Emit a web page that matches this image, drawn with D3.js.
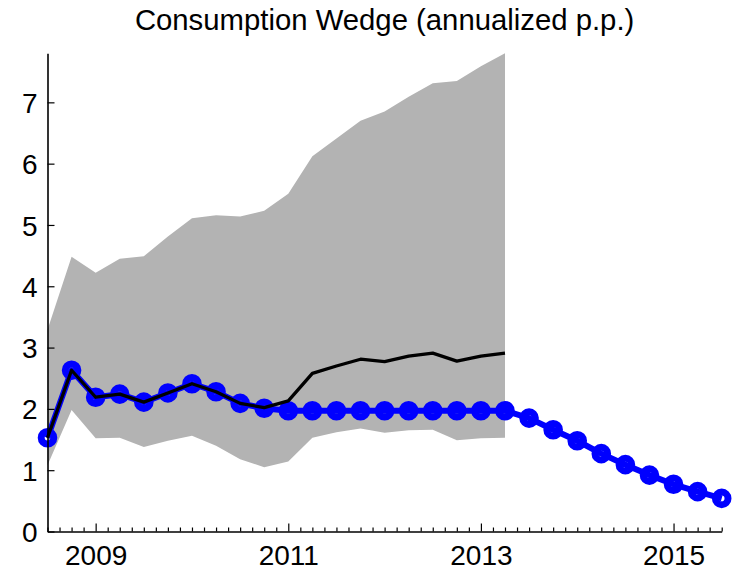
<!DOCTYPE html>
<html>
<head>
<meta charset="utf-8">
<script src="https://cdn.jsdelivr.net/npm/d3@7"></script>
<style>
  html, body { margin: 0; padding: 0; background: #fff; }
  svg text { font-family: "Liberation Sans", Arial, Helvetica, sans-serif; fill: #000; }
</style>
</head>
<body>
<svg id="chart" width="734" height="574"></svg>
<script>
// ---- Data ----
const quarters = [2008.5, 2008.75, 2009, 2009.25, 2009.5, 2009.75, 2010, 2010.25, 2010.5, 2010.75,
                  2011, 2011.25, 2011.5, 2011.75, 2012, 2012.25, 2012.5, 2012.75, 2013, 2013.25,
                  2013.5, 2013.75, 2014, 2014.25, 2014.5, 2014.75, 2015, 2015.25, 2015.5];
const bandQuarters = [2008.5, 2008.75, 2009, 2009.25, 2009.5, 2009.75, 2010, 2010.25, 2010.5, 2010.75,
                      2011, 2011.25, 2011.5, 2011.75, 2012, 2012.25, 2012.5, 2012.75, 2013, 2013.25];
const bluePath = [1.53, 2.63, 2.19, 2.24, 2.11, 2.26, 2.41, 2.28, 2.09, 2.01,
                  1.97, 1.97, 1.97, 1.97, 1.97, 1.97, 1.97, 1.97, 1.97, 1.97,
                  1.85, 1.66, 1.48, 1.27, 1.09, 0.92, 0.77, 0.65, 0.54];
const medianWedge = [1.53, 2.63, 2.19, 2.24, 2.11, 2.26, 2.41, 2.28, 2.09, 2.02,
                     2.13, 2.58, 2.70, 2.81, 2.77, 2.86, 2.91, 2.78, 2.86, 2.91];
const bandUpper = [3.29, 4.48, 4.22, 4.45, 4.49, 4.81, 5.11, 5.16, 5.14, 5.23,
                   5.51, 6.12, 6.41, 6.70, 6.85, 7.09, 7.31, 7.35, 7.59, 7.80];
const bandLower = [1.08, 1.98, 1.52, 1.53, 1.38, 1.48, 1.56, 1.40, 1.18, 1.05,
                   1.14, 1.53, 1.62, 1.68, 1.61, 1.65, 1.66, 1.49, 1.52, 1.53];
const yTicks = [0, 1, 2, 3, 4, 5, 6, 7];
const xTicks = [2009, 2011, 2013, 2015];
const xTickLabels = ["2009", "2011", "2013", "2015"];
const titleText = "Consumption Wedge (annualized p.p.)";

// ---- Layout ----
const svg = d3.select("#chart");
const x = d3.scaleLinear().domain([2008.5, 2015.5]).range([47.5, 721.7]);
const y = d3.scaleLinear().domain([0, 7.8]).range([531.5, 53.3]);

// Band
const band = bandQuarters.map((q, i) => ({q, lo: bandLower[i], hi: bandUpper[i]}));
svg.append("path")
  .datum(band)
  .attr("fill", "#b3b3b3")
  .attr("stroke", "none")
  .attr("d", d3.area().x(d => x(d.q)).y0(d => y(d.lo)).y1(d => y(d.hi)));

// Blue path with markers
const blue = quarters.map((q, i) => ({q, v: bluePath[i]}));
svg.append("path")
  .datum(blue)
  .attr("fill", "none")
  .attr("stroke", "#0000ff")
  .attr("stroke-width", 6)
  .attr("stroke-linejoin", "round")
  .attr("d", d3.line().x(d => x(d.q)).y(d => y(d.v)));
svg.append("g").selectAll("circle")
  .data(blue)
  .join("circle")
  .attr("cx", d => x(d.q))
  .attr("cy", d => y(d.v))
  .attr("r", 6.3)
  .attr("fill", "none")
  .attr("stroke", "#0000ff")
  .attr("stroke-width", 7);

// Black median line
const med = bandQuarters.map((q, i) => ({q, v: medianWedge[i]}));
svg.append("path")
  .datum(med)
  .attr("fill", "none")
  .attr("stroke", "#000")
  .attr("stroke-width", 3.3)
  .attr("stroke-linejoin", "round")
  .attr("d", d3.line().x(d => x(d.q)).y(d => y(d.v)));

// Axes
const x0 = x.range()[0], y0 = y.range()[0];
// minor x ticks (every 1/8 year)
const minorTicks = d3.range(2008.5, 2015.5001, 0.125).filter(t => !xTicks.includes(t));
svg.append("g")
  .attr("transform", `translate(0,${y0})`)
  .call(d3.axisBottom(x).tickValues(minorTicks).tickSize(-4).tickFormat(""))
  .call(g => g.select(".domain").remove())
  .call(g => g.selectAll("line").attr("stroke", "#000").attr("stroke-width", 1.2));

const xAxis = svg.append("g")
  .attr("transform", `translate(0,${y0})`)
  .call(d3.axisBottom(x).tickValues(xTicks).tickSizeInner(-8).tickSizeOuter(0)
        .tickFormat((d, i) => xTickLabels[i]));
xAxis.select(".domain").attr("stroke", "#000").attr("stroke-width", 1.6);
xAxis.selectAll("line").attr("stroke", "#000").attr("stroke-width", 1.2);
xAxis.selectAll("text")
  .attr("y", 33)
  .attr("dy", 0)
  .attr("font-size", "28px")
  .attr("font-family", "Liberation Sans, Arial, Helvetica, sans-serif")
  .attr("fill", "#000");

const yAxis = svg.append("g")
  .attr("transform", `translate(${x0},0)`)
  .call(d3.axisLeft(y).tickValues(yTicks).tickSizeInner(-7).tickSizeOuter(0).tickFormat(d3.format("d")));
yAxis.select(".domain").attr("stroke", "#000").attr("stroke-width", 1.6);
yAxis.selectAll("line").attr("stroke", "#000").attr("stroke-width", 1.2);
yAxis.selectAll("text")
  .attr("x", -10)
  .attr("dy", "0.36em")
  .attr("font-size", "28px")
  .attr("font-family", "Liberation Sans, Arial, Helvetica, sans-serif")
  .attr("fill", "#000");

// Title
svg.append("text")
  .attr("x", (x.range()[0] + x.range()[1]) / 2)
  .attr("y", 29.5)
  .attr("text-anchor", "middle")
  .attr("font-size", "29.3px")
  .text(titleText);
</script>
</body>
</html>
